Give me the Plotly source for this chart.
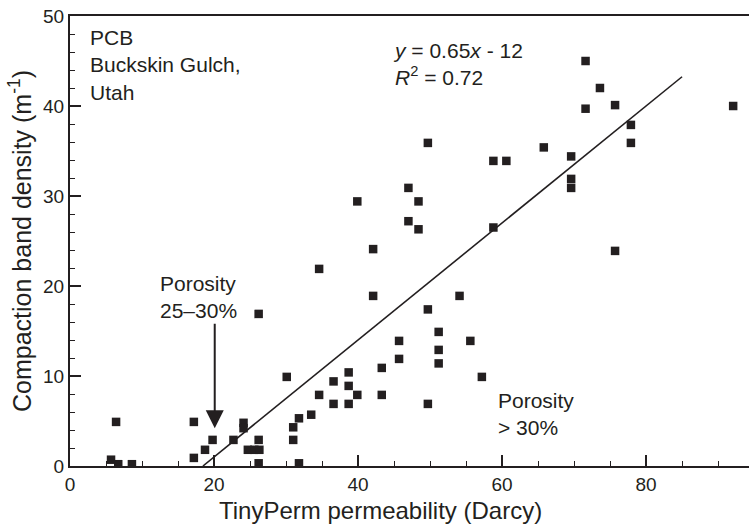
import plotly.graph_objects as go

# Data
perm_darcy = [5.7, 6.4, 6.7, 8.6, 17.2, 17.2, 18.75, 19.8, 22.7, 24.1, 24.1, 24.7, 25.6, 26.3,
              26.2, 26.2, 26.2, 30.1, 31.8, 31.0, 31.0, 31.8, 33.5, 34.6, 36.6, 36.6, 38.7,
              38.7, 38.7, 39.9, 43.3, 43.3, 45.7, 45.7, 49.7, 49.7, 51.2, 51.2, 51.2, 55.6,
              57.2, 42.1, 54.1, 34.6, 42.1, 39.9, 47.0, 48.4, 47.0, 48.4, 49.7, 58.8, 58.8,
              60.6, 65.8, 69.6, 69.6, 69.6, 71.6, 73.6, 71.6, 75.7, 77.9, 77.9, 75.7, 92.1]
band_density = [0.7, 4.9, 0.2, 0.2, 4.9, 0.9, 1.8, 2.9, 2.9, 4.8, 4.2, 1.8, 1.8, 1.8,
                2.9, 0.3, 16.9, 9.9, 5.3, 4.3, 2.9, 0.3, 5.7, 7.9, 9.4, 6.9, 10.4,
                8.9, 6.9, 7.9, 10.9, 7.9, 13.9, 11.9, 17.4, 6.9, 14.9, 12.9, 11.4, 13.9,
                9.9, 18.9, 18.9, 21.9, 24.1, 29.4, 30.9, 29.4, 27.2, 26.3, 35.9, 26.5, 33.9,
                33.9, 35.4, 34.4, 31.9, 30.9, 45.0, 42.0, 39.7, 40.1, 37.9, 35.9, 23.9, 40.0]

fit_slope = 0.65
fit_intercept = -12
fit_x = [-fit_intercept / fit_slope, 85]
fit_y = [fit_slope * v + fit_intercept for v in fit_x]

x_ticks = [0, 20, 40, 60, 80]
y_ticks = [0, 10, 20, 30, 40, 50]

INK = "#231f20"
FONT = "Liberation Sans"

fig = go.Figure()
fig.add_trace(go.Scatter(x=fit_x, y=fit_y, mode="lines",
                         line=dict(color=INK, width=1.6), hoverinfo="skip"))
fig.add_trace(go.Scatter(x=perm_darcy, y=band_density, mode="markers",
                         marker=dict(symbol="square", size=8.5, color=INK, line=dict(width=0))))

axis_common = dict(showgrid=False, zeroline=False, showline=True, linecolor=INK, linewidth=2,
                   ticks="inside", ticklen=11, tickwidth=2, tickcolor=INK,
                   tickfont=dict(family=FONT, size=19, color=INK))

fig.update_xaxes(range=[0, 94.3], tickvals=x_ticks, mirror=True,
                 minor=dict(ticks="inside", dtick=5, ticklen=5, tickwidth=1.2, tickcolor=INK),
                 **axis_common)
fig.update_yaxes(range=[0, 50], tickvals=y_ticks,
                 minor=dict(ticks="inside", dtick=2, ticklen=5, tickwidth=1.2, tickcolor=INK),
                 **axis_common)

ann_font = dict(family=FONT, size=21, color=INK)
annotations = [
    dict(text="TinyPerm permeability (Darcy)", xref="paper", yref="paper", x=0.458, y=-0.0978,
         xanchor="center", yanchor="middle", showarrow=False,
         font=dict(family=FONT, size=24, color=INK)),
    dict(text="Compaction band density (m<sup>-1</sup>)", xref="paper", yref="paper",
         x=-0.0736, y=0.5, xanchor="center", yanchor="middle", textangle=-90, showarrow=False,
         font=dict(family=FONT, size=25, color=INK)),
    dict(text="PCB<br>Buckskin Gulch,<br>Utah", xref="paper", yref="paper",
         x=(88 - 70) / 679, y=(466 - 24) / 450, xanchor="left", yanchor="top", align="left",
         showarrow=False, font=ann_font),
    dict(text="<i>y</i> = 0.65<i>x</i> - 12<br><i>R</i><sup>2</sup> = 0.72", xref="paper", yref="paper",
         x=(391 - 70) / 679, y=(466 - 37) / 450, xanchor="left", yanchor="top", align="left",
         showarrow=False, font=ann_font),
    dict(text="Porosity<br>25–30%", xref="paper", yref="paper",
         x=(158 - 70) / 679, y=(466 - 270) / 450, xanchor="left", yanchor="top", align="left",
         showarrow=False, font=ann_font),
    dict(text="Porosity<br>> 30%", xref="paper", yref="paper",
         x=(496 - 70) / 679, y=(466 - 387) / 450, xanchor="left", yanchor="top", align="left",
         showarrow=False, font=ann_font),
    dict(text="", x=20.1, y=4.2, xref="x", yref="y", ax=0, ay=-106, axref="pixel", ayref="pixel",
         showarrow=True, arrowhead=2, arrowsize=1.8, arrowwidth=2, arrowcolor=INK),
]

fig.update_layout(width=749, height=530, margin=dict(l=70, r=0, t=16, b=64),
                  paper_bgcolor="white", plot_bgcolor="white", showlegend=False,
                  annotations=annotations, font=dict(family=FONT, color=INK))

fig.write_html("out.html")
